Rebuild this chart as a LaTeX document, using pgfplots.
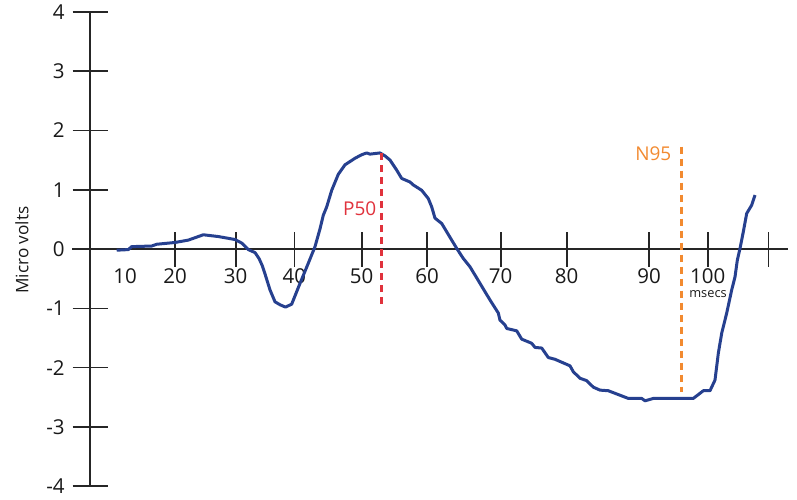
\documentclass[border=0pt]{standalone}
\usepackage{fontspec}
\setmainfont{Open Sans}
\usepackage{pgfplots}
\pgfplotsset{compat=1.18}
\definecolor{curveblue}{HTML}{26408F}
\definecolor{pred}{HTML}{E0323C}
\definecolor{norange}{HTML}{F28A30}
\begin{document}
\begin{tikzpicture}
\path[use as bounding box] (0,0) rectangle (398.5pt,249.5pt);
\begin{axis}[
  anchor=origin, at={(45pt,125pt)},
  x=0.5pt, y=29.65pt,
  xmin=-18, xmax=698, ymin=-4, ymax=4,
  axis lines=center,
  hide obscured y ticks=false,
  axis line style={-, line width=0.8pt, black!85},
  tick style={line width=0.8pt, black!85},
  tick align=center,
  major tick length=17.5pt,
  xtick={85,145.7,204.3,271.7,337,410.7,476.7,559,617.7,678.3},
  xticklabels={20,30,40,50,60,70,80,90,100,{}},
  extra x ticks={35},
  extra x tick labels={10},
  extra x tick style={tick style={draw=none}},
  ytick={-4,-3,-2,-1,0,1,2,3,4},
  yticklabels={-4,-3,-2,-1,0,1,2,3,4},
  ticklabel style={font=\fontsize{10.25}{12}\selectfont, text=black!90, inner sep=0pt},
  xticklabel style={anchor=center, yshift=-5pt},
  yticklabel style={anchor=east, xshift=-3.75pt},
  clip=false,
]
\addplot[curveblue, line width=1.5pt, line join=round] coordinates {
(26.7,-0.02) (38.3,-0.01) (41.7,0.04) (61.7,0.05) (66.7,0.08) (85,0.11)
(98.3,0.15) (113.3,0.24) (128.3,0.21) (145,0.16) (151.7,0.10) (158.3,-0.01)
(165,-0.06) (169,-0.16) (172,-0.27) (175,-0.42) (180,-0.69) (185,-0.89)
(190,-0.94) (195.5,-0.98) (201.7,-0.93) (205,-0.79) (210,-0.58) (218.3,-0.24)
(225,0.04) (230,0.34) (233.3,0.57) (236.7,0.71) (241.7,0.99) (248.3,1.26)
(255,1.42) (265,1.53) (271.7,1.59) (276.7,1.62) (280,1.60) (290,1.62)
(295,1.57) (300,1.50) (306.7,1.33) (311.7,1.19) (320,1.13) (323.3,1.08)
(331.7,0.99) (338.3,0.85) (341.7,0.71) (345,0.52) (351.7,0.43) (356.7,0.29)
(361.7,0.15) (366.7,0.01) (373.3,-0.16) (380,-0.30) (390,-0.58) (400,-0.86)
(408.3,-1.08) (410,-1.20) (415,-1.28) (416.7,-1.34) (426.7,-1.38) (431.7,-1.52)
(441.7,-1.59) (445,-1.66) (451.7,-1.67) (458.3,-1.83) (465,-1.86) (480,-1.97)
(483.3,-2.07) (490,-2.18) (496.7,-2.22) (503.3,-2.33) (510,-2.38) (518.3,-2.39)
(538.3,-2.52) (551.7,-2.52) (555,-2.56) (563.3,-2.52) (603.3,-2.52) (613.3,-2.39)
(620,-2.39) (625,-2.21) (628.3,-1.76) (631.7,-1.42) (636.7,-1.08) (641.7,-0.69)
(645,-0.47) (647.3,-0.19) (650,0.01) (653.3,0.29) (656.7,0.60) (661.7,0.74)
(665,0.91)
};
\addplot[pred, line width=1.5pt, dash pattern=on 3.7pt off 2.3pt] coordinates {(291.7,1.62) (291.7,-0.94)};
\addplot[norange, line width=1.5pt, dash pattern=on 3.7pt off 2.3pt] coordinates {(591.7,1.725) (591.7,-2.41)};
\node[anchor=east, inner sep=0pt, text=pred, font=\fontsize{9.5}{11}\selectfont] at (axis cs:286.7,0.675) {P50};
\node[anchor=east, inner sep=0pt, text=norange, font=\fontsize{9.5}{11}\selectfont] at (axis cs:581.7,1.61) {N95};
\node[inner sep=0pt, text=black!90, font=\fontsize{6.4}{8}\selectfont] at (axis cs:618,-0.76) {msecs};
\end{axis}
\node[rotate=90, inner sep=0pt, text=black!90, font=\fontsize{8.6}{10}\selectfont] at (11pt,124.5pt) {Micro volts};
\end{tikzpicture}
\end{document}
